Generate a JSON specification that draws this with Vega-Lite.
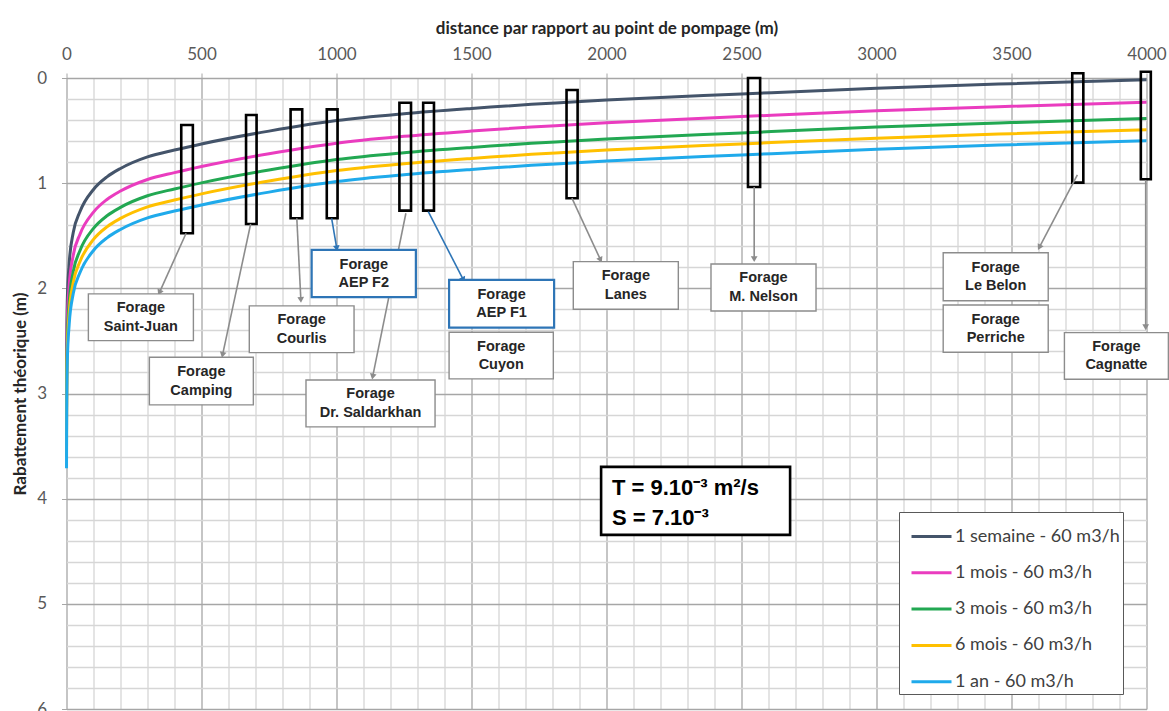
{
  "$schema": "https://vega.github.io/schema/vega-lite/v6.json",
  "width": 1080,
  "height": 631,
  "autosize": {"type": "none"},
  "padding": {"left": 66.5, "top": 78, "right": 22.5, "bottom": 2},
  "background": "white",
  "config": {"view": {"stroke": null}, "font": "Lato"},
  "datasets": {
    "courbes": [
      {"serie": "1 semaine - 60 m3/h", "r": 0.1, "s": 3.13},
      {"serie": "1 semaine - 60 m3/h", "r": 0.3, "s": 2.80},
      {"serie": "1 semaine - 60 m3/h", "r": 1, "s": 2.45},
      {"serie": "1 semaine - 60 m3/h", "r": 3, "s": 2.11},
      {"serie": "1 semaine - 60 m3/h", "r": 10, "s": 1.76},
      {"serie": "1 semaine - 60 m3/h", "r": 25, "s": 1.47},
      {"serie": "1 semaine - 60 m3/h", "r": 50, "s": 1.27},
      {"serie": "1 semaine - 60 m3/h", "r": 100, "s": 1.06},
      {"serie": "1 semaine - 60 m3/h", "r": 150, "s": 0.94},
      {"serie": "1 semaine - 60 m3/h", "r": 200, "s": 0.86},
      {"serie": "1 semaine - 60 m3/h", "r": 300, "s": 0.75},
      {"serie": "1 semaine - 60 m3/h", "r": 400, "s": 0.685},
      {"serie": "1 semaine - 60 m3/h", "r": 500, "s": 0.627},
      {"serie": "1 semaine - 60 m3/h", "r": 750, "s": 0.505},
      {"serie": "1 semaine - 60 m3/h", "r": 1000, "s": 0.405},
      {"serie": "1 semaine - 60 m3/h", "r": 1250, "s": 0.34},
      {"serie": "1 semaine - 60 m3/h", "r": 1500, "s": 0.29},
      {"serie": "1 semaine - 60 m3/h", "r": 2000, "s": 0.21},
      {"serie": "1 semaine - 60 m3/h", "r": 2500, "s": 0.152},
      {"serie": "1 semaine - 60 m3/h", "r": 3000, "s": 0.097},
      {"serie": "1 semaine - 60 m3/h", "r": 3500, "s": 0.054},
      {"serie": "1 semaine - 60 m3/h", "r": 4000, "s": 0.016},

      {"serie": "1 mois - 60 m3/h", "r": 0.1, "s": 3.345},
      {"serie": "1 mois - 60 m3/h", "r": 0.3, "s": 3.015},
      {"serie": "1 mois - 60 m3/h", "r": 1, "s": 2.665},
      {"serie": "1 mois - 60 m3/h", "r": 3, "s": 2.325},
      {"serie": "1 mois - 60 m3/h", "r": 10, "s": 1.975},
      {"serie": "1 mois - 60 m3/h", "r": 25, "s": 1.685},
      {"serie": "1 mois - 60 m3/h", "r": 50, "s": 1.485},
      {"serie": "1 mois - 60 m3/h", "r": 100, "s": 1.275},
      {"serie": "1 mois - 60 m3/h", "r": 150, "s": 1.155},
      {"serie": "1 mois - 60 m3/h", "r": 200, "s": 1.075},
      {"serie": "1 mois - 60 m3/h", "r": 300, "s": 0.965},
      {"serie": "1 mois - 60 m3/h", "r": 400, "s": 0.90},
      {"serie": "1 mois - 60 m3/h", "r": 500, "s": 0.842},
      {"serie": "1 mois - 60 m3/h", "r": 750, "s": 0.72},
      {"serie": "1 mois - 60 m3/h", "r": 1000, "s": 0.62},
      {"serie": "1 mois - 60 m3/h", "r": 1250, "s": 0.555},
      {"serie": "1 mois - 60 m3/h", "r": 1500, "s": 0.505},
      {"serie": "1 mois - 60 m3/h", "r": 2000, "s": 0.425},
      {"serie": "1 mois - 60 m3/h", "r": 2500, "s": 0.367},
      {"serie": "1 mois - 60 m3/h", "r": 3000, "s": 0.312},
      {"serie": "1 mois - 60 m3/h", "r": 3500, "s": 0.269},
      {"serie": "1 mois - 60 m3/h", "r": 4000, "s": 0.231},

      {"serie": "3 mois - 60 m3/h", "r": 0.1, "s": 3.50},
      {"serie": "3 mois - 60 m3/h", "r": 0.3, "s": 3.17},
      {"serie": "3 mois - 60 m3/h", "r": 1, "s": 2.82},
      {"serie": "3 mois - 60 m3/h", "r": 3, "s": 2.48},
      {"serie": "3 mois - 60 m3/h", "r": 10, "s": 2.13},
      {"serie": "3 mois - 60 m3/h", "r": 25, "s": 1.84},
      {"serie": "3 mois - 60 m3/h", "r": 50, "s": 1.64},
      {"serie": "3 mois - 60 m3/h", "r": 100, "s": 1.43},
      {"serie": "3 mois - 60 m3/h", "r": 150, "s": 1.31},
      {"serie": "3 mois - 60 m3/h", "r": 200, "s": 1.23},
      {"serie": "3 mois - 60 m3/h", "r": 300, "s": 1.12},
      {"serie": "3 mois - 60 m3/h", "r": 400, "s": 1.055},
      {"serie": "3 mois - 60 m3/h", "r": 500, "s": 0.997},
      {"serie": "3 mois - 60 m3/h", "r": 750, "s": 0.875},
      {"serie": "3 mois - 60 m3/h", "r": 1000, "s": 0.775},
      {"serie": "3 mois - 60 m3/h", "r": 1250, "s": 0.71},
      {"serie": "3 mois - 60 m3/h", "r": 1500, "s": 0.66},
      {"serie": "3 mois - 60 m3/h", "r": 2000, "s": 0.58},
      {"serie": "3 mois - 60 m3/h", "r": 2500, "s": 0.522},
      {"serie": "3 mois - 60 m3/h", "r": 3000, "s": 0.467},
      {"serie": "3 mois - 60 m3/h", "r": 3500, "s": 0.424},
      {"serie": "3 mois - 60 m3/h", "r": 4000, "s": 0.386},

      {"serie": "6 mois - 60 m3/h", "r": 0.1, "s": 3.605},
      {"serie": "6 mois - 60 m3/h", "r": 0.3, "s": 3.275},
      {"serie": "6 mois - 60 m3/h", "r": 1, "s": 2.925},
      {"serie": "6 mois - 60 m3/h", "r": 3, "s": 2.585},
      {"serie": "6 mois - 60 m3/h", "r": 10, "s": 2.235},
      {"serie": "6 mois - 60 m3/h", "r": 25, "s": 1.945},
      {"serie": "6 mois - 60 m3/h", "r": 50, "s": 1.745},
      {"serie": "6 mois - 60 m3/h", "r": 100, "s": 1.535},
      {"serie": "6 mois - 60 m3/h", "r": 150, "s": 1.415},
      {"serie": "6 mois - 60 m3/h", "r": 200, "s": 1.335},
      {"serie": "6 mois - 60 m3/h", "r": 300, "s": 1.225},
      {"serie": "6 mois - 60 m3/h", "r": 400, "s": 1.16},
      {"serie": "6 mois - 60 m3/h", "r": 500, "s": 1.102},
      {"serie": "6 mois - 60 m3/h", "r": 750, "s": 0.98},
      {"serie": "6 mois - 60 m3/h", "r": 1000, "s": 0.88},
      {"serie": "6 mois - 60 m3/h", "r": 1250, "s": 0.815},
      {"serie": "6 mois - 60 m3/h", "r": 1500, "s": 0.765},
      {"serie": "6 mois - 60 m3/h", "r": 2000, "s": 0.685},
      {"serie": "6 mois - 60 m3/h", "r": 2500, "s": 0.627},
      {"serie": "6 mois - 60 m3/h", "r": 3000, "s": 0.572},
      {"serie": "6 mois - 60 m3/h", "r": 3500, "s": 0.529},
      {"serie": "6 mois - 60 m3/h", "r": 4000, "s": 0.491},

      {"serie": "1 an - 60 m3/h", "r": 0.1, "s": 3.71},
      {"serie": "1 an - 60 m3/h", "r": 0.3, "s": 3.38},
      {"serie": "1 an - 60 m3/h", "r": 1, "s": 3.03},
      {"serie": "1 an - 60 m3/h", "r": 3, "s": 2.69},
      {"serie": "1 an - 60 m3/h", "r": 10, "s": 2.34},
      {"serie": "1 an - 60 m3/h", "r": 25, "s": 2.05},
      {"serie": "1 an - 60 m3/h", "r": 50, "s": 1.85},
      {"serie": "1 an - 60 m3/h", "r": 100, "s": 1.64},
      {"serie": "1 an - 60 m3/h", "r": 150, "s": 1.52},
      {"serie": "1 an - 60 m3/h", "r": 200, "s": 1.44},
      {"serie": "1 an - 60 m3/h", "r": 300, "s": 1.33},
      {"serie": "1 an - 60 m3/h", "r": 400, "s": 1.265},
      {"serie": "1 an - 60 m3/h", "r": 500, "s": 1.207},
      {"serie": "1 an - 60 m3/h", "r": 750, "s": 1.085},
      {"serie": "1 an - 60 m3/h", "r": 1000, "s": 0.985},
      {"serie": "1 an - 60 m3/h", "r": 1250, "s": 0.92},
      {"serie": "1 an - 60 m3/h", "r": 1500, "s": 0.87},
      {"serie": "1 an - 60 m3/h", "r": 2000, "s": 0.79},
      {"serie": "1 an - 60 m3/h", "r": 2500, "s": 0.732},
      {"serie": "1 an - 60 m3/h", "r": 3000, "s": 0.677},
      {"serie": "1 an - 60 m3/h", "r": 3500, "s": 0.634},
      {"serie": "1 an - 60 m3/h", "r": 4000, "s": 0.596}
    ],
    "cadres": [
      {"forage": "Saint-Juan", "r": 425, "r2": 468, "s": 0.447, "s2": 1.476},
      {"forage": "Camping", "r": 665, "r2": 704, "s": 0.352, "s2": 1.388},
      {"forage": "Courlis", "r": 830, "r2": 873, "s": 0.298, "s2": 1.334},
      {"forage": "AEP F2", "r": 964, "r2": 1004, "s": 0.298, "s2": 1.334},
      {"forage": "Dr. Saldarkhan", "r": 1233, "r2": 1276, "s": 0.235, "s2": 1.261},
      {"forage": "AEP F1 / Cuyon", "r": 1321, "r2": 1361, "s": 0.235, "s2": 1.261},
      {"forage": "Lanes", "r": 1852, "r2": 1893, "s": 0.114, "s2": 1.143},
      {"forage": "M. Nelson", "r": 2524, "r2": 2569, "s": 0.0, "s2": 1.036},
      {"forage": "Le Belon / Perriche", "r": 3725, "r2": 3766, "s": -0.045, "s2": 0.995},
      {"forage": "Cagnatte", "r": 3979, "r2": 4016, "s": -0.06, "s2": 0.963}
    ],
    "fleches": [
      {"forage": "Saint-Juan", "usage": "autre", "r2": 443, "s2": 1.476, "r": 344, "s": 2.041},
      {"forage": "Camping", "usage": "autre", "r2": 682, "s2": 1.388, "r": 578, "s": 2.633},
      {"forage": "Courlis", "usage": "autre", "r2": 853, "s2": 1.334, "r": 868, "s": 2.11},
      {"forage": "AEP F2", "usage": "AEP", "r2": 982, "s2": 1.334, "r": 1001, "s": 1.62},
      {"forage": "Dr. Saldarkhan", "usage": "autre", "r2": 1257, "s2": 1.286, "r": 1134, "s": 2.839},
      {"forage": "AEP F1", "usage": "AEP", "r2": 1340, "s2": 1.271, "r": 1470, "s": 1.92},
      {"forage": "Lanes", "usage": "autre", "r2": 1872, "s2": 1.143, "r": 1978, "s": 1.73},
      {"forage": "M. Nelson", "usage": "autre", "r2": 2547, "s2": 1.036, "r": 2547, "s": 1.723},
      {"forage": "Le Belon", "usage": "autre", "r2": 3744, "s2": 0.922, "r": 3603, "s": 1.61},
      {"forage": "Cagnatte", "usage": "autre", "r2": 3997, "s2": 0.97, "r": 3997, "s": 2.37}
    ],
    "etiquettes": [
      {"texte": "Forage\nSaint-Juan", "usage": "autre", "r": 81, "r2": 470, "s": 2.053, "s2": 2.497},
      {"texte": "Forage\nCamping", "usage": "autre", "r": 307, "r2": 692, "s": 2.655, "s2": 3.108},
      {"texte": "Forage\nCourlis", "usage": "autre", "r": 677, "r2": 1065, "s": 2.167, "s2": 2.611},
      {"texte": "Forage\nAEP F2", "usage": "AEP", "r": 908, "r2": 1294, "s": 1.635, "s2": 2.084},
      {"texte": "Forage\nDr. Saldarkhan", "usage": "autre", "r": 887, "r2": 1365, "s": 2.871, "s2": 3.317},
      {"texte": "Forage\nAEP F1", "usage": "AEP", "r": 1417, "r2": 1806, "s": 1.92, "s2": 2.374},
      {"texte": "Forage\nCuyon", "usage": "autre", "r": 1417, "r2": 1803, "s": 2.417, "s2": 2.861},
      {"texte": "Forage\nLanes", "usage": "autre", "r": 1877, "r2": 2266, "s": 1.746, "s2": 2.199},
      {"texte": "Forage\nM. Nelson", "usage": "autre", "r": 2387, "r2": 2776, "s": 1.768, "s2": 2.215},
      {"texte": "Forage\nLe Belon", "usage": "autre", "r": 3247, "r2": 3636, "s": 1.661, "s2": 2.118},
      {"texte": "Forage\nPerriche", "usage": "autre", "r": 3247, "r2": 3636, "s": 2.158, "s2": 2.608},
      {"texte": "Forage\nCagnatte", "usage": "autre", "r": 3696, "r2": 4081, "s": 2.421, "s2": 2.865}
    ],
    "parametres_cadre": [
      {"r": 1980, "r2": 2680, "s": 3.698, "s2": 4.344}
    ],
    "parametres_texte": [
      {"texte": "T = 9.10⁻³ m²/s", "r": 2020, "s": 3.895},
      {"texte": "S = 7.10⁻³", "r": 2020, "s": 4.18}
    ]
  },
  "encoding": {
    "x": {
      "field": "r",
      "type": "quantitative",
      "scale": {"domain": [0, 4000], "nice": false, "zero": false},
      "axis": {
        "orient": "top",
        "title": "distance par rapport au point de pompage (m)",
        "values": [0,100,200,300,400,500,600,700,800,900,1000,1100,1200,1300,1400,1500,1600,1700,1800,1900,2000,2100,2200,2300,2400,2500,2600,2700,2800,2900,3000,3100,3200,3300,3400,3500,3600,3700,3800,3900,4000],
        "labelExpr": "datum.value % 500 === 0 ? format(datum.value, 'd') : ''",
        "labelFlush": false,
        "labelOverlap": false,
        "labelFont": "Lato",
        "labelFontSize": 17,
        "labelColor": "#595959",
        "labelPadding": 10,
        "domain": false,
        "tickSize": 5,
        "tickColor": {"condition": {"test": "datum.value % 500 === 0", "value": "#A6A6A6"}, "value": "rgba(0,0,0,0)"},
        "gridColor": {"condition": {"test": "datum.value % 500 === 0", "value": "#A6A6A6"}, "value": "#D6D6D6"},
        "gridWidth": 1.3,
        "titleFont": "Lato",
        "titleFontSize": 17,
        "titleFontWeight": "bold",
        "titleColor": "#262626",
        "titlePadding": 8
      }
    },
    "y": {
      "field": "s",
      "type": "quantitative",
      "scale": {"domain": [0, 6], "reverse": true, "nice": false, "zero": false},
      "axis": {
        "title": "Rabattement théorique (m)",
        "values": [0,0.2,0.4,0.6,0.8,1,1.2,1.4,1.6,1.8,2,2.2,2.4,2.6,2.8,3,3.2,3.4,3.6,3.8,4,4.2,4.4,4.6,4.8,5,5.2,5.4,5.6,5.8,6],
        "labelExpr": "abs(datum.value - round(datum.value)) < 0.001 ? format(datum.value, 'd') : ''",
        "labelOverlap": false,
        "labelFont": "Lato",
        "labelFontSize": 17,
        "labelColor": "#595959",
        "labelPadding": 15,
        "domain": false,
        "tickSize": 5,
        "tickColor": {"condition": {"test": "abs(datum.value - round(datum.value)) < 0.001", "value": "#A6A6A6"}, "value": "rgba(0,0,0,0)"},
        "gridColor": {"condition": {"test": "abs(datum.value - round(datum.value)) < 0.001", "value": "#A6A6A6"}, "value": "#D6D6D6"},
        "gridWidth": 1.3,
        "titleFont": "Lato",
        "titleFontSize": 17,
        "titleFontWeight": "bold",
        "titleColor": "#262626",
        "titlePadding": 7
      }
    }
  },
  "layer": [
    {
      "data": {"name": "courbes"},
      "mark": {"type": "line", "strokeWidth": 3, "interpolate": "monotone"},
      "encoding": {
        "color": {
          "field": "serie",
          "type": "nominal",
          "sort": ["1 semaine - 60 m3/h", "1 mois - 60 m3/h", "3 mois - 60 m3/h", "6 mois - 60 m3/h", "1 an - 60 m3/h"],
          "scale": {
            "domain": ["1 semaine - 60 m3/h", "1 mois - 60 m3/h", "3 mois - 60 m3/h", "6 mois - 60 m3/h", "1 an - 60 m3/h"],
            "range": ["#44546A", "#EA3CBF", "#22A852", "#FFC000", "#1FAAEB"]
          },
          "legend": {
            "orient": "none",
            "legendX": 832.5,
            "legendY": 434,
            "title": null,
            "direction": "vertical",
            "fillColor": "white",
            "strokeColor": "#595959",
            "padding": 3,
            "symbolType": "stroke",
            "symbolSize": 1600,
            "symbolStrokeWidth": 3,
            "symbolOffset": 8,
            "labelOffset": 2,
            "labelFont": "Lato",
            "labelFontSize": 18,
            "labelColor": "#404040",
            "rowPadding": 5.3,
            "labelLimit": 300
          }
        }
      }
    },
    {
      "data": {"name": "cadres"},
      "mark": {"type": "rect", "filled": false, "color": "#000000", "strokeWidth": 2.6},
      "encoding": {
        "x2": {"field": "r2"},
        "y2": {"field": "s2"}
      }
    },
    {
      "data": {"name": "fleches"},
      "mark": {"type": "rule", "strokeWidth": 1.6},
      "encoding": {
        "x2": {"field": "r2"},
        "y2": {"field": "s2"},
        "color": {"condition": {"test": "datum.usage === 'AEP'", "value": "#2E75B6"}, "value": "#8C8C8C"}
      }
    },
    {
      "data": {"name": "fleches"},
      "transform": [
        {"calculate": "atan2((datum.r - datum.r2) * 0.27, (datum.s2 - datum.s) * 105.17) * 180 / PI", "as": "angle"}
      ],
      "mark": {"type": "point", "shape": "triangle-up", "filled": true, "size": 45, "opacity": 1},
      "encoding": {
        "angle": {"field": "angle", "type": "quantitative", "scale": null},
        "color": {"condition": {"test": "datum.usage === 'AEP'", "value": "#2E75B6"}, "value": "#8C8C8C"}
      }
    },
    {
      "data": {"name": "etiquettes"},
      "mark": {"type": "rect", "fill": "white"},
      "encoding": {
        "x2": {"field": "r2"},
        "y2": {"field": "s2"},
        "stroke": {"condition": {"test": "datum.usage === 'AEP'", "value": "#2E75B6"}, "value": "#8C8C8C"},
        "strokeWidth": {"condition": {"test": "datum.usage === 'AEP'", "value": 2.2}, "value": 1.4}
      }
    },
    {
      "data": {"name": "etiquettes"},
      "transform": [
        {"calculate": "(datum.r + datum.r2) / 2", "as": "r_centre"},
        {"calculate": "(datum.s + datum.s2) / 2", "as": "s_centre"}
      ],
      "mark": {"type": "text", "font": "Liberation Sans", "fontWeight": "bold", "fontSize": 14.5, "lineBreak": "\n", "lineHeight": 18.5, "dy": -9, "color": "#262626", "align": "center", "baseline": "middle"},
      "encoding": {
        "x": {
          "field": "r_centre",
          "type": "quantitative",
          "scale": {"domain": [0, 4000], "nice": false, "zero": false},
          "axis": {
            "orient": "top",
            "title": "distance par rapport au point de pompage (m)",
            "values": [0,100,200,300,400,500,600,700,800,900,1000,1100,1200,1300,1400,1500,1600,1700,1800,1900,2000,2100,2200,2300,2400,2500,2600,2700,2800,2900,3000,3100,3200,3300,3400,3500,3600,3700,3800,3900,4000],
            "labelExpr": "datum.value % 500 === 0 ? format(datum.value, 'd') : ''",
            "labelFlush": false,
            "labelOverlap": false,
            "labelFont": "Lato",
            "labelFontSize": 17,
            "labelColor": "#595959",
            "labelPadding": 10,
            "domain": false,
            "tickSize": 5,
            "tickColor": {"condition": {"test": "datum.value % 500 === 0", "value": "#A6A6A6"}, "value": "rgba(0,0,0,0)"},
            "gridColor": {"condition": {"test": "datum.value % 500 === 0", "value": "#A6A6A6"}, "value": "#D6D6D6"},
            "gridWidth": 1.3,
            "titleFont": "Lato",
            "titleFontSize": 17,
            "titleFontWeight": "bold",
            "titleColor": "#262626",
            "titlePadding": 8
          }
        },
        "y": {
          "field": "s_centre",
          "type": "quantitative",
          "scale": {"domain": [0, 6], "reverse": true, "nice": false, "zero": false},
          "axis": {
            "title": "Rabattement théorique (m)",
            "values": [0,0.2,0.4,0.6,0.8,1,1.2,1.4,1.6,1.8,2,2.2,2.4,2.6,2.8,3,3.2,3.4,3.6,3.8,4,4.2,4.4,4.6,4.8,5,5.2,5.4,5.6,5.8,6],
            "labelExpr": "abs(datum.value - round(datum.value)) < 0.001 ? format(datum.value, 'd') : ''",
            "labelOverlap": false,
            "labelFont": "Lato",
            "labelFontSize": 17,
            "labelColor": "#595959",
            "labelPadding": 15,
            "domain": false,
            "tickSize": 5,
            "tickColor": {"condition": {"test": "abs(datum.value - round(datum.value)) < 0.001", "value": "#A6A6A6"}, "value": "rgba(0,0,0,0)"},
            "gridColor": {"condition": {"test": "abs(datum.value - round(datum.value)) < 0.001", "value": "#A6A6A6"}, "value": "#D6D6D6"},
            "gridWidth": 1.3,
            "titleFont": "Lato",
            "titleFontSize": 17,
            "titleFontWeight": "bold",
            "titleColor": "#262626",
            "titlePadding": 7
          }
        },
        "text": {"field": "texte"}
      }
    },
    {
      "data": {"name": "parametres_cadre"},
      "mark": {"type": "rect", "fill": "white", "stroke": "#000000", "strokeWidth": 2.6},
      "encoding": {
        "x2": {"field": "r2"},
        "y2": {"field": "s2"}
      }
    },
    {
      "data": {"name": "parametres_texte"},
      "mark": {"type": "text", "font": "Liberation Sans", "fontWeight": "bold", "fontSize": 22, "color": "#000000", "align": "left", "baseline": "middle"},
      "encoding": {
        "text": {"field": "texte"}
      }
    }
  ]
}
